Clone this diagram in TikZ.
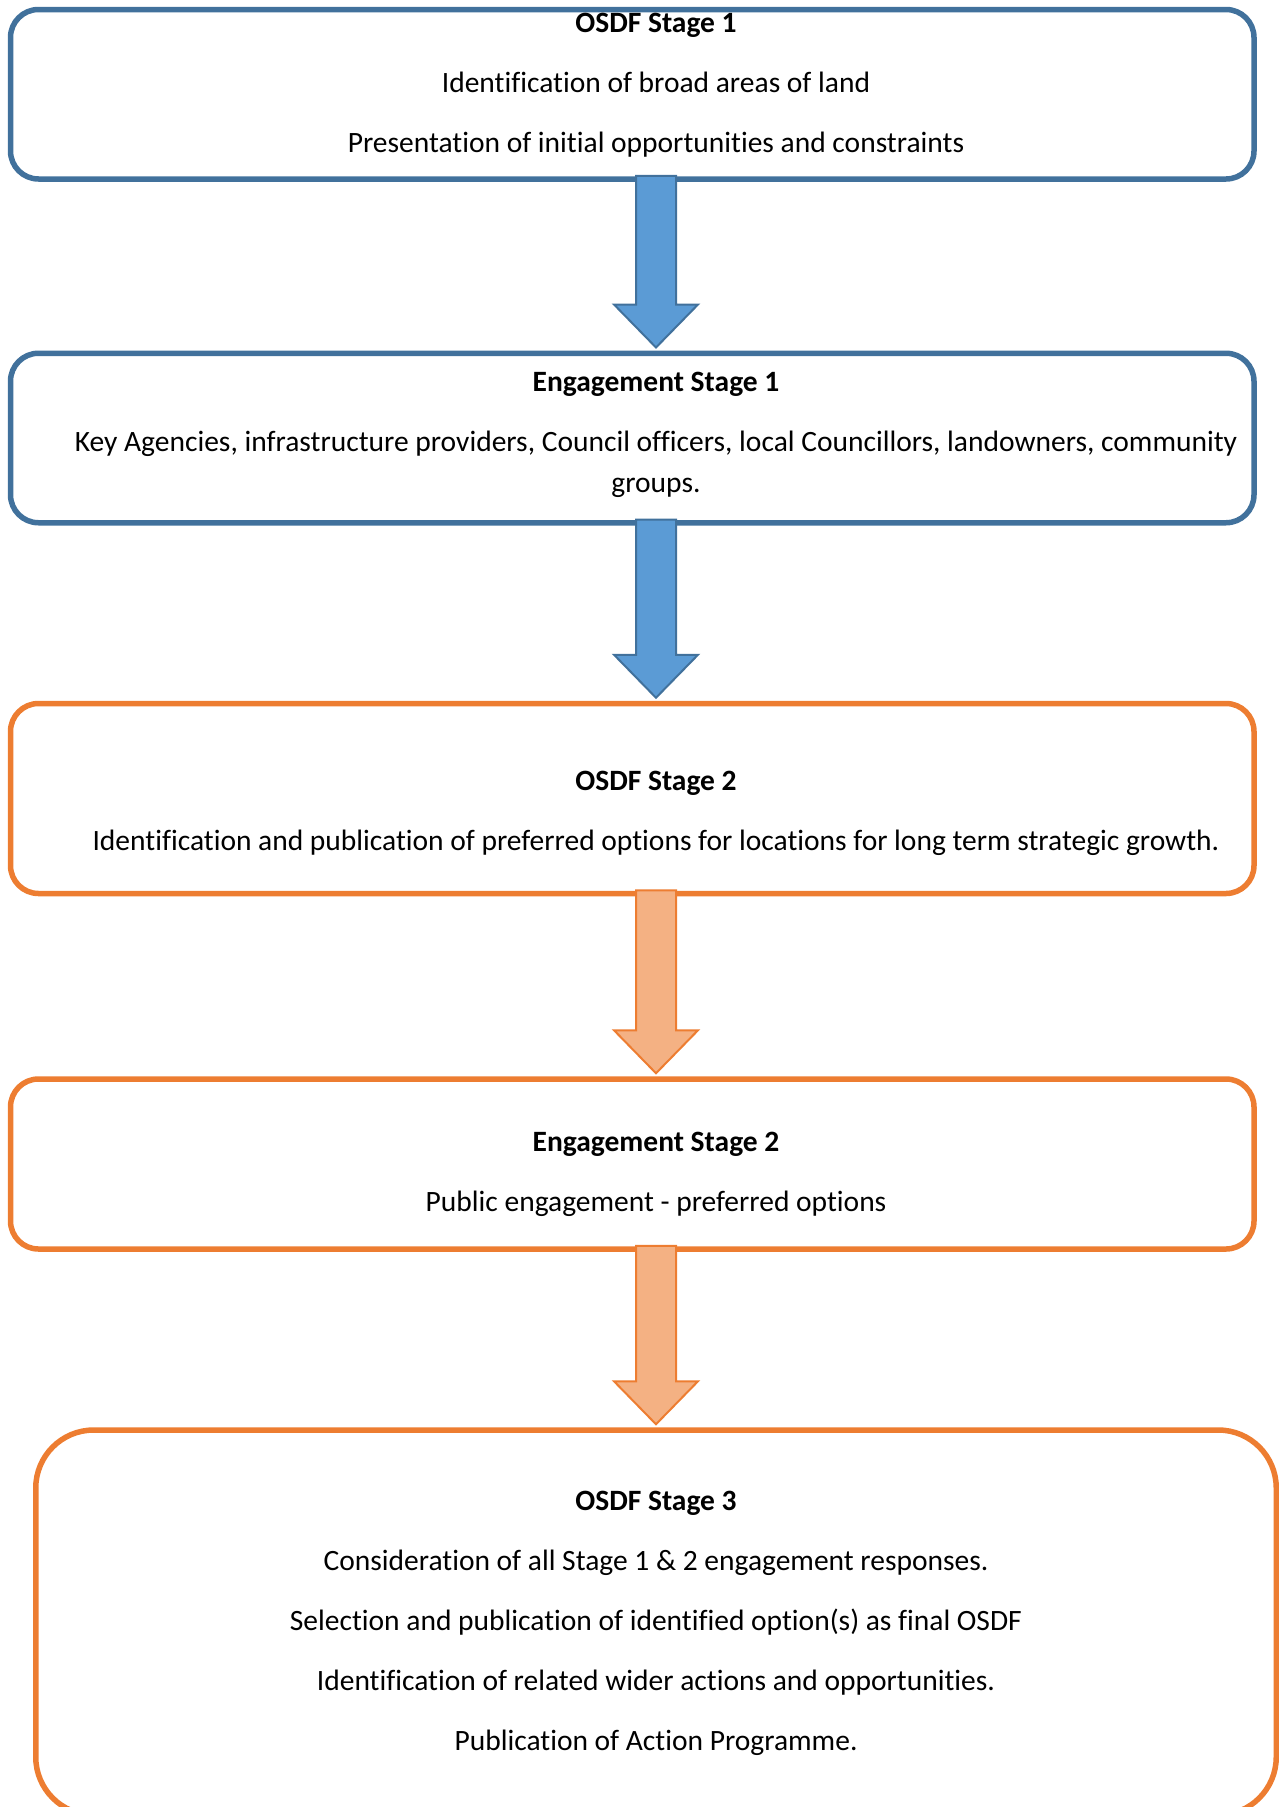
\documentclass[tikz,border=0pt]{standalone}
\usepackage{fontspec}
\setmainfont{Carlito}[Ligatures=NoCommon]
\usepackage{tikz}
\usetikzlibrary{calc}

\definecolor{bluedraw}{HTML}{41719C}
\definecolor{bluefill}{HTML}{5B9BD5}
\definecolor{orangedraw}{HTML}{ED7D31}
\definecolor{orangefill}{HTML}{F4B183}

\begin{document}
\begin{tikzpicture}[x=1pt, y=-1pt]

	\tikzstyle stage box=[draw, line width=5.5pt, rounded corners=28pt, minimum width=1243.5pt, minimum height=169.5pt, inner sep=0pt];
	\tikzstyle blue box=[stage box, draw=bluedraw];
	\tikzstyle orange box=[stage box, draw=orangedraw];
	\tikzstyle stage text=[align=center, font=\fontsize{29.5}{41}\selectfont, inner sep=0pt];
	\tikzset{stage arrow/.style={draw=#1draw, fill=#1fill, line width=2pt}}

	\useasboundingbox (0,0) rectangle (1279,1807);

	\coordinate (axis) at (656,0);

	\node[blue box] (osdf1) at (632.25,94.25) {};
	\node[blue box] (eng1) at (632.25,438) {};
	\node[orange box, minimum height=190pt] (osdf2) at (632.25,798.5) {};
	\node[orange box, minimum height=170pt] (eng2) at (632.25,1164) {};
	\node[orange box, minimum width=1240.5pt, minimum height=385pt, rounded corners=58pt] (osdf3) at (656,1622.5) {};

	\node[stage text] (osdf1 text) at (656,85) {\textbf{OSDF Stage 1}\\[19pt]
		Identification of broad areas of land\\[19pt]
		Presentation of initial opportunities and constraints};
	\node[stage text] (eng1 text) at (656,435) {\textbf{Engagement Stage 1}\\[19pt]
		Key Agencies, infrastructure providers, Council officers, local Councillors, landowners, community\\
		groups.};
	\node[stage text] (osdf2 text) at (656,813.5) {\textbf{OSDF Stage 2}\\[19pt]
		Identification and publication of preferred options for locations for long term strategic growth.};
	\node[stage text] (eng2 text) at (656,1174.5) {\textbf{Engagement Stage 2}\\[19pt]
		Public engagement - preferred options};
	\node[stage text] (osdf3 text) at (656,1623.5) {\textbf{OSDF Stage 3}\\[19pt]
		Consideration of all Stage 1 \& 2 engagement responses.\\[19pt]
		Selection and publication of identified option(s) as final OSDF\\[19pt]
		Identification of related wider actions and opportunities.\\[19pt]
		Publication of Action Programme.};

	\foreach \from/\to/\tone in {osdf1/eng1/blue, eng1/osdf2/blue, osdf2/eng2/orange, eng2/osdf3/orange}
		\draw[stage arrow=\tone] ($(axis |- \from.south)+(-20,-6)$) -- ($(axis |- \to.north)+(-20,-46)$)
			-- ++(-22,0) -- ($(axis |- \to.north)+(0,-3)$) -- ++(42,-43) -- ++(-22,0)
			-- ($(axis |- \from.south)+(20,-6)$) -- cycle;

\end{tikzpicture}
\end{document}
